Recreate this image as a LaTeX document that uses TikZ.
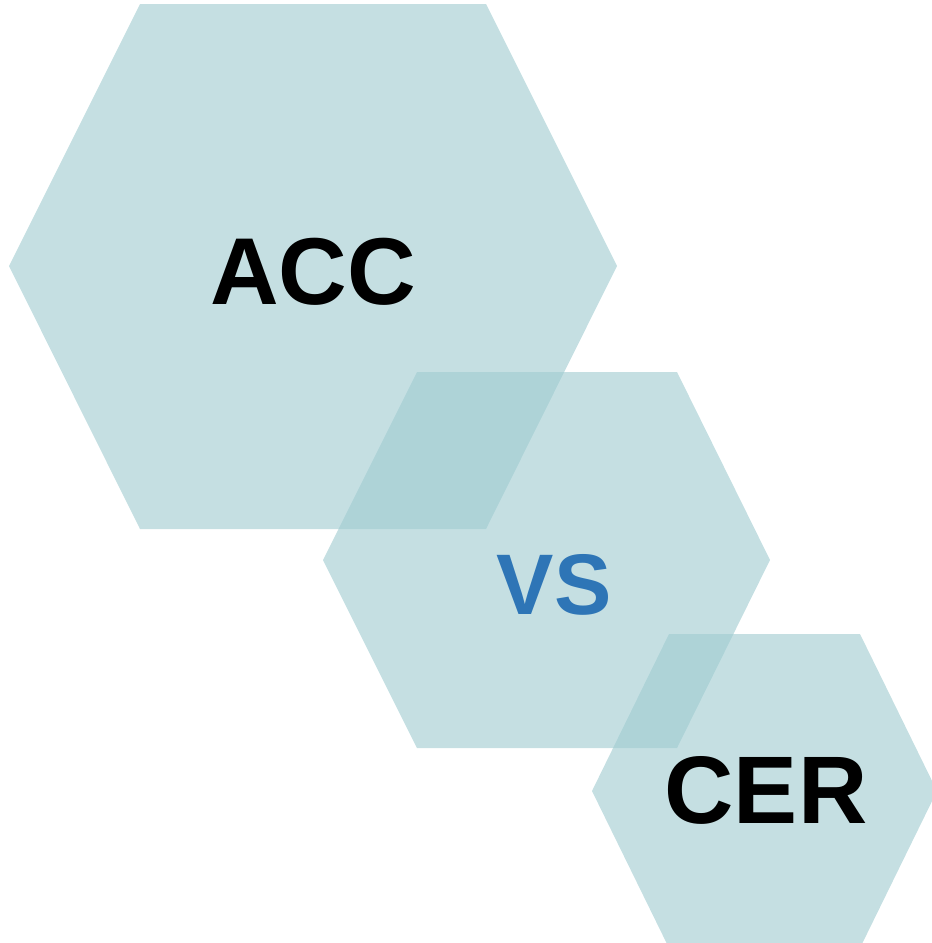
\documentclass[tikz,border=0pt]{standalone}
\usepackage{fontspec}
\setmainfont{Liberation Sans}
\definecolor{hexfill}{RGB}{158,202,207}
\definecolor{vsblue}{RGB}{46,117,182}

\begin{document}
\begin{tikzpicture}[x=1pt,y=-1pt]
    \tikzstyle{hex}=[fill=hexfill, fill opacity=0.6, draw=none]
    \tikzstyle{label}=[inner sep=0pt, font=\bfseries]

    \useasboundingbox (0,0) rectangle (932,943);
    \clip (0,0) rectangle (932,943);
    \fill[hex] (140,4) -- (486,4) -- (617,266) -- (486,529) -- (140,529) -- (9,266) -- cycle;
    \fill[hex] (417,372) -- (677,372) -- (770,560) -- (677,748) -- (417,748) -- (323,560) -- cycle;
    \fill[hex] (669,634) -- (860,634) -- (937,791) -- (860,948) -- (669,948) -- (592,791) -- cycle;
    \node[label] (acc) at (313,272) {\fontsize{95}{110}\selectfont ACC};
    \node[label, text=vsblue] (vs) at (554,585) {\fontsize{86}{100}\selectfont VS};
    \node[label] (cer) at (766,790) {\fontsize{96}{115}\selectfont CER};
\end{tikzpicture}
\end{document}
